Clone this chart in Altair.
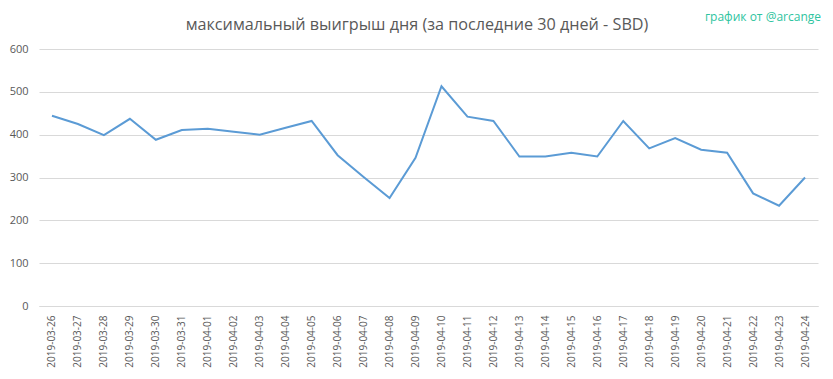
import altair as alt
import pandas as pd

dates = [
    "2019-03-26", "2019-03-27", "2019-03-28", "2019-03-29", "2019-03-30",
    "2019-03-31", "2019-04-01", "2019-04-02", "2019-04-03", "2019-04-04",
    "2019-04-05", "2019-04-06", "2019-04-07", "2019-04-08", "2019-04-09",
    "2019-04-10", "2019-04-11", "2019-04-12", "2019-04-13", "2019-04-14",
    "2019-04-15", "2019-04-16", "2019-04-17", "2019-04-18", "2019-04-19",
    "2019-04-20", "2019-04-21", "2019-04-22", "2019-04-23", "2019-04-24",
]
values = [
    444, 425, 399, 437, 388, 411, 414, 407, 400, 416,
    432, 352, 301, 252, 346, 513, 442, 432, 349, 349,
    358, 349, 432, 368, 392, 365, 358, 263, 234, 300,
]
y_ticks = [0, 100, 200, 300, 400, 500, 600]
title_text = ["максимальный выигрыш дня (за последние 30 дней - SBD)"]
watermark = ["график от @arcange"]

df = pd.DataFrame({"date": dates, "value": values})

FONT = "Open Sans"
TXT = "#595959"
GRID = "#d9d9d9"

line = alt.Chart(df).mark_line(color="#5b9bd5", strokeWidth=2).encode(
    x=alt.X(
        "date:N",
        sort=None,
        title=None,
        scale=alt.Scale(paddingInner=0, paddingOuter=0.5),
        axis=alt.Axis(
            labelAngle=-90,
            labelFontSize=10,
            labelFont=FONT,
            labelColor=TXT,
            labelPadding=9,
            ticks=False,
            tickSize=0,
            domainColor=GRID,
            grid=False,
        ),
    ),
    y=alt.Y(
        "value:Q",
        title=None,
        scale=alt.Scale(domain=[0, 600]),
        axis=alt.Axis(
            values=y_ticks,
            labelFontSize=11,
            labelFont=FONT,
            labelColor=TXT,
            labelPadding=11,
            ticks=False,
            tickSize=0,
            domain=False,
            gridColor=GRID,
            gridWidth=1,
        ),
    ),
)

ttl = alt.Chart(pd.DataFrame({"t": title_text})).mark_text(
    align="center", baseline="middle", fontSize=16.2, font=FONT, color=TXT
).encode(text="t:N", x=alt.value(378), y=alt.value(-24))

wm = alt.Chart(pd.DataFrame({"t": watermark})).mark_text(
    align="right", baseline="middle", fontSize=12, font=FONT, color="#2ec4a0"
).encode(text="t:N", x=alt.value(782), y=alt.value(-32))

chart = (
    alt.layer(line, ttl, wm)
    .properties(
        width=779,
        height=257,
        autosize=alt.AutoSizeParams(type="none"),
        padding={"left": 31, "top": 41, "right": 7, "bottom": 65},
    )
    .configure_view(stroke=None)
)

chart.save("out.html", embed_options={"renderer": "svg", "actions": False})
